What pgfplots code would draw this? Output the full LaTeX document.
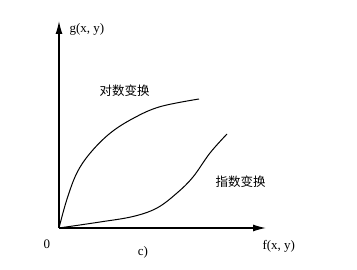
\documentclass[border=0pt]{standalone}
\usepackage{pgfplots}
\pgfplotsset{compat=1.18}
\usepackage{fontspec}
\setmainfont{Liberation Serif}
\newfontfamily\cjk{Noto Sans CJK SC}
\usetikzlibrary{arrows.meta}
\begin{document}
\begin{tikzpicture}
\begin{axis}[
  width=357pt, height=270pt, scale only axis,
  xmin=0, xmax=357, ymin=0, ymax=270,
  hide axis, clip=false,
]
\path (axis cs:0,0) rectangle (axis cs:357,270);
% log transform curve (pixel coords, y = 270 - row)
\addplot[black, line width=1pt, smooth, tension=0.6] coordinates {
 (59,42) (66.7,70) (76.7,96.7) (90,116.7) (110,136.7)
 (133.3,151.7) (160,163.3) (199,171)
};
% exponential transform curve
\addplot[black, line width=1pt, smooth, tension=0.6] coordinates {
 (59,42) (100,48) (133,53.5) (157,62) (177,77) (193,93) (210,117) (227,136)
};
% axes
\draw[line width=1.3pt, -{Latex[length=13pt,width=7pt]}] (axis cs:59,42) -- (axis cs:59,249);
\draw[line width=1.3pt, -{Latex[length=13pt,width=7pt]}] (axis cs:59,42) -- (axis cs:266,42);
\node[anchor=west, font=\fontsize{13}{13}\selectfont] at (axis cs:66,241) {g(x, y)};
\node[anchor=west, font=\fontsize{13}{13}\selectfont] at (axis cs:259,24) {f(x, y)};
\node[font=\fontsize{13}{13}\selectfont] at (axis cs:47,26) {0};
\node[font=\fontsize{13}{13}\selectfont] at (axis cs:143,18) {c)};
\node[anchor=west, font=\cjk\fontsize{12.5}{12.5}\selectfont] at (axis cs:96,179) {对数变换};
\node[anchor=west, font=\cjk\fontsize{12.5}{12.5}\selectfont] at (axis cs:212,88) {指数变换};
\end{axis}
\end{tikzpicture}
\end{document}
